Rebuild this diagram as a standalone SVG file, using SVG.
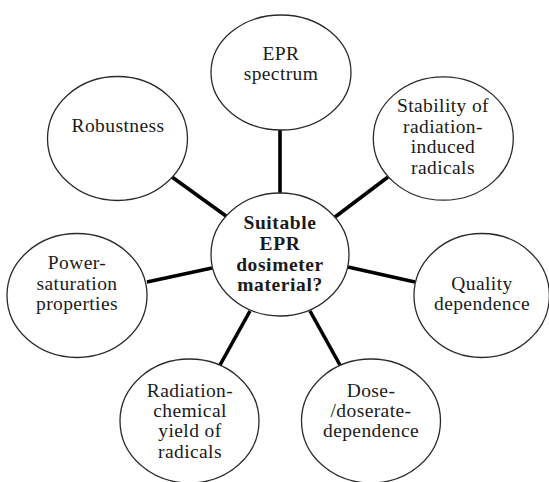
<svg xmlns="http://www.w3.org/2000/svg" width="549" height="482" viewBox="0 0 549 482">
<style>
ellipse{fill:#fff;stroke:#2a2a2a;stroke-width:1.3}
text{font-family:"Liberation Serif","Times New Roman",serif;font-size:19.5px;fill:#1a1a1a;text-anchor:middle;letter-spacing:0.4px}
.b{font-weight:bold;letter-spacing:0.6px}
#connectors line{stroke:#000;stroke-width:3.6;stroke-linecap:butt}
</style>
<rect width="549" height="482" fill="#fff"/>
<g id="connectors">
<line x1="280" y1="130" x2="280" y2="193"/>
<line x1="172" y1="177" x2="226" y2="216"/>
<line x1="388" y1="177" x2="335" y2="217"/>
<line x1="147" y1="282" x2="212" y2="268"/>
<line x1="348" y1="267" x2="415" y2="282"/>
<line x1="250" y1="311" x2="220" y2="365"/>
<line x1="310" y1="311" x2="340" y2="365"/>
</g>
<g id="epr-spectrum">
<ellipse cx="281" cy="72.5" rx="70" ry="57.5"/>
<text x="281" y="60">EPR</text>
<text x="281" y="80">spectrum</text>
</g>
<g id="robustness">
<ellipse cx="117.5" cy="138.5" rx="70" ry="62"/>
<text x="118" y="132">Robustness</text>
</g>
<g id="stability">
<ellipse cx="443.3" cy="138.5" rx="70" ry="61.7"/>
<text x="443" y="112">Stability of</text>
<text x="443" y="133">radiation-</text>
<text x="443" y="153">induced</text>
<text x="443" y="173.5">radicals</text>
</g>
<g id="center">
<ellipse cx="280" cy="254.5" rx="69" ry="61.5"/>
<text class="b" x="280" y="228.5">Suitable</text>
<text class="b" x="280" y="249.5">EPR</text>
<text class="b" x="280" y="270.5">dosimeter</text>
<text class="b" x="280" y="290.5">material?</text>
</g>
<g id="power-saturation">
<ellipse cx="77" cy="295.5" rx="70" ry="62"/>
<text x="77" y="269">Power-</text>
<text x="77" y="290">saturation</text>
<text x="77" y="310">properties</text>
</g>
<g id="quality">
<ellipse cx="481.7" cy="295.5" rx="67.7" ry="62"/>
<text x="482" y="290">Quality</text>
<text x="482" y="309.5">dependence</text>
</g>
<g id="radiation-chemical">
<ellipse cx="189.5" cy="421" rx="69.5" ry="62"/>
<text x="190" y="397">Radiation-</text>
<text x="190" y="417">chemical</text>
<text x="190" y="437">yield of</text>
<text x="190" y="457.5">radicals</text>
</g>
<g id="dose">
<ellipse cx="371" cy="421" rx="69.5" ry="62"/>
<text x="371" y="397">Dose-</text>
<text x="371" y="417">/doserate-</text>
<text x="371" y="437">dependence</text>
</g>
</svg>
